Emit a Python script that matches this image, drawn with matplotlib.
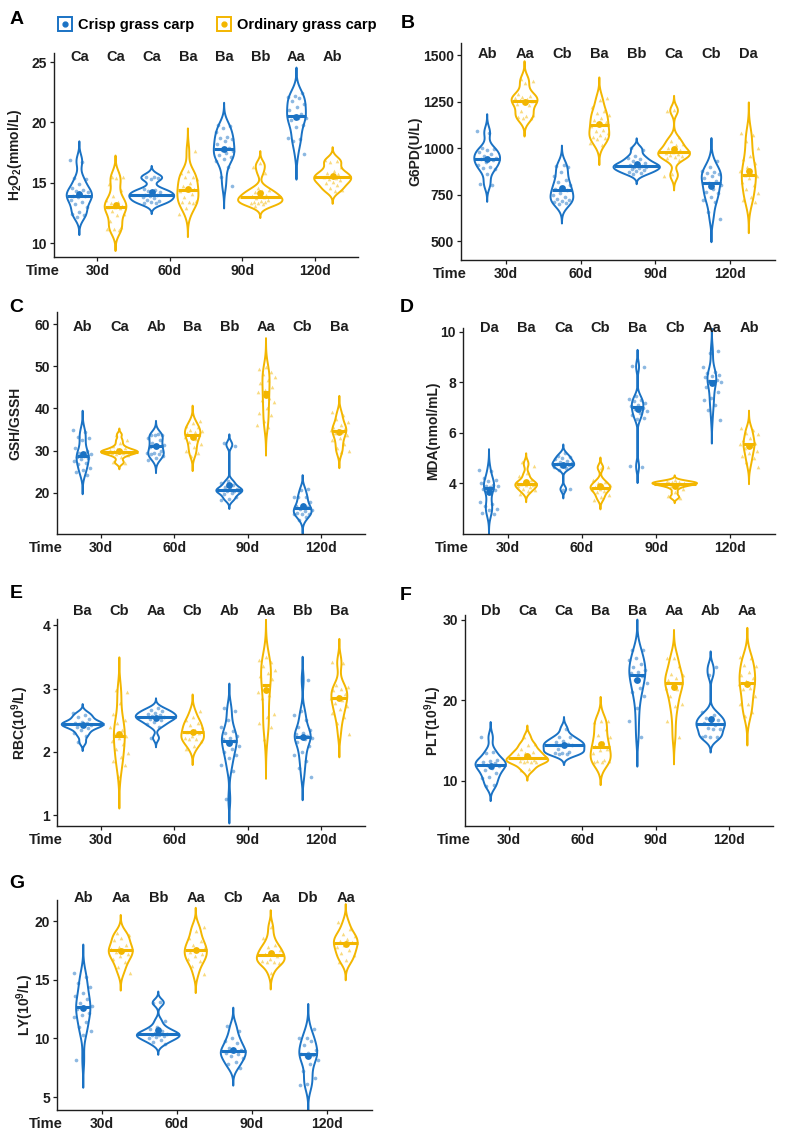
import numpy as np
import matplotlib
matplotlib.use("Agg")
import matplotlib.pyplot as plt
from matplotlib.lines import Line2D
from matplotlib.legend_handler import HandlerTuple
from matplotlib.transforms import offset_copy

plt.rcParams['font.family'] = ['Liberation Sans', 'DejaVu Sans']
plt.rcParams['font.weight'] = 'bold'
plt.rcParams['mathtext.fontset'] = 'custom'
plt.rcParams['mathtext.bf'] = 'Liberation Sans:bold'
plt.rcParams['mathtext.rm'] = 'Liberation Sans:bold'
plt.rcParams['mathtext.default'] = 'bf'

BLUE = '#1a72c4'
GOLD = '#f3b600'
INK = '#1e1e1e'

times = ['30d', '60d', '90d', '120d']
groups = ['Crisp grass carp', 'Ordinary grass carp']

# --- values (one list per time point: 30d, 60d, 90d, 120d)
h2o2_crisp = [
    [16.9, 16.7, 15.4, 15.3, 14.9, 14.6, 14.4, 14.3, 14.2, 14.0, 13.9, 13.9, 13.8, 13.6, 13.4, 13.2, 13.0, 12.6, 12.4, 12.3, 12.2],
    [15.5, 15.5, 15.4, 15.3, 14.5, 14.4, 14.3, 14.2, 14.1, 14.0, 14.0, 13.9, 13.8, 13.7, 13.6, 13.5, 13.4, 13.3, 13.3],
    [19.8, 19.7, 19.5, 19.2, 18.8, 18.7, 18.6, 18.5, 18.2, 17.9, 17.7, 17.6, 17.5, 17.3, 17.1, 17.0, 16.8, 16.3, 15.5, 14.7],
    [22.4, 22.2, 22.1, 22.0, 21.8, 21.5, 21.3, 21.0, 20.7, 20.5, 20.4, 20.4, 20.2, 19.8, 19.6, 18.7, 18.6, 18.5, 17.4],
]
h2o2_ord = [
    [15.5, 15.5, 15.4, 14.9, 14.4, 13.9, 13.6, 13.4, 13.3, 13.1, 13.0, 13.0, 12.9, 12.7, 12.4, 12.3, 11.8, 11.3, 11.2, 11.2, 11.1],
    [17.6, 16.0, 15.8, 15.5, 15.5, 15.3, 15.0, 14.7, 14.5, 14.4, 14.3, 14.1, 13.8, 13.5, 13.4, 13.4, 13.3, 12.9, 12.4],
    [16.6, 16.3, 15.8, 14.6, 14.4, 14.3, 14.2, 14.0, 13.9, 13.9, 13.8, 13.7, 13.6, 13.5, 13.4, 13.4, 13.3, 13.3, 13.2, 13.1],
    [16.9, 16.8, 16.7, 16.3, 16.0, 15.8, 15.7, 15.6, 15.5, 15.4, 15.3, 15.2, 15.1, 15.0, 14.8, 14.6, 14.4, 14.3],
]
g6pd_crisp = [
    [1090, 1080, 1000, 995, 990, 980, 970, 960, 950, 945, 940, 935, 925, 910, 900, 895, 890, 860, 810, 805],
    [910, 905, 900, 870, 850, 830, 820, 800, 790, 780, 775, 760, 750, 740, 730, 720, 715, 710, 705, 700],
    [1000, 990, 960, 950, 940, 930, 920, 915, 910, 905, 900, 900, 895, 890, 885, 880, 870, 865, 860],
    [930, 900, 880, 870, 865, 860, 850, 840, 825, 815, 800, 780, 765, 760, 740, 720, 710, 660, 620],
]
g6pd_ord = [
    [1370, 1360, 1350, 1290, 1280, 1275, 1270, 1265, 1260, 1255, 1250, 1240, 1230, 1200, 1180, 1175, 1170, 1165, 1160],
    [1270, 1260, 1220, 1200, 1190, 1180, 1165, 1150, 1140, 1130, 1120, 1100, 1090, 1080, 1070, 1060, 1055, 1050, 1030, 1020],
    [1205, 1200, 1060, 1040, 1025, 1020, 1000, 990, 980, 975, 970, 965, 960, 955, 950, 935, 860, 850],
    [1080, 1070, 1040, 1000, 960, 940, 920, 900, 880, 860, 855, 850, 840, 820, 800, 780, 760, 740, 720, 710],
]
gsh_crisp = [
    [34.9, 34.5, 33.3, 33.0, 32.5, 30.6, 30.0, 29.5, 29.2, 28.8, 28.5, 28.3, 28.0, 27.6, 27.0, 26.8, 25.8, 25.4, 25.0, 24.2],
    [33.9, 33.8, 33.7, 33.6, 33.0, 32.6, 31.8, 31.4, 31.2, 30.9, 30.0, 29.5, 29.4, 29.3, 29.2, 28.6, 28.2, 27.8],
    [31.8, 31.0, 22.8, 22.4, 21.8, 21.4, 21.0, 20.8, 20.6, 20.5, 20.4, 20.2, 20.0, 19.6, 19.0, 18.6, 18.2],
    [20.9, 20.6, 19.0, 19.0, 18.9, 17.8, 17.2, 16.8, 16.5, 16.2, 16.0, 15.6, 15.2, 15.0, 15.0, 14.9, 14.2, 13.5],
]
gsh_ord = [
    [33.8, 32.6, 31.8, 31.0, 30.6, 30.3, 30.1, 29.9, 29.8, 29.7, 29.6, 29.5, 29.4, 29.2, 28.9, 28.4, 27.4, 27.0],
    [37.0, 36.5, 35.8, 35.5, 35.0, 34.6, 34.4, 34.2, 34.0, 33.5, 33.2, 32.8, 32.1, 31.5, 30.8, 30.0, 29.4, 28.8],
    [49.8, 49.4, 48.6, 48.3, 47.5, 46.7, 46.0, 45.2, 44.5, 43.8, 42.5, 42.0, 41.5, 40.2, 39.0, 38.5, 37.0, 36.1, 35.7],
    [39.2, 38.4, 37.6, 36.8, 36.0, 35.6, 35.3, 35.0, 34.8, 34.5, 34.2, 33.6, 33.0, 32.4, 31.6, 30.6, 29.8, 29.6],
]
mda_crisp = [
    [4.55, 4.50, 4.20, 4.15, 4.08, 4.00, 3.95, 3.90, 3.88, 3.85, 3.80, 3.75, 3.70, 3.25, 3.20, 3.10, 3.00, 2.95, 2.85, 2.80],
    [5.20, 5.10, 5.05, 5.00, 4.95, 4.90, 4.85, 4.80, 4.78, 4.75, 4.72, 4.70, 4.65, 4.60, 4.55, 3.80, 3.75],
    [8.65, 8.60, 7.45, 7.35, 7.30, 7.25, 7.20, 7.10, 7.05, 7.00, 6.95, 6.85, 6.80, 6.70, 6.60, 6.55, 4.70, 4.65],
    [9.25, 9.15, 8.60, 8.40, 8.35, 8.30, 8.25, 8.20, 8.10, 8.05, 8.00, 7.95, 7.80, 7.60, 7.40, 7.30, 7.10, 6.90, 6.50],
]
mda_ord = [
    [4.85, 4.70, 4.40, 4.30, 4.15, 4.10, 4.05, 4.00, 3.98, 3.95, 3.92, 3.90, 3.85, 3.80, 3.75, 3.70, 3.60],
    [4.65, 4.60, 4.15, 4.05, 4.00, 3.95, 3.90, 3.85, 3.82, 3.80, 3.78, 3.70, 3.65, 3.55, 3.45, 3.35],
    [4.12, 4.08, 4.05, 4.04, 4.03, 4.02, 4.00, 3.98, 3.97, 3.95, 3.92, 3.88, 3.80, 3.65, 3.50, 3.42],
    [6.20, 6.10, 6.00, 5.95, 5.80, 5.70, 5.60, 5.58, 5.55, 5.50, 5.40, 5.30, 5.20, 5.10, 5.00, 4.85, 4.65],
]
rbc_crisp = [
    [2.62, 2.58, 2.55, 2.52, 2.48, 2.46, 2.45, 2.44, 2.43, 2.42, 2.40, 2.38, 2.35, 2.30, 2.25, 2.15],
    [2.70, 2.66, 2.64, 2.62, 2.60, 2.58, 2.56, 2.55, 2.54, 2.52, 2.50, 2.47, 2.44, 2.40, 2.22],
    [2.70, 2.65, 2.50, 2.40, 2.33, 2.30, 2.25, 2.22, 2.20, 2.18, 2.15, 2.10, 2.05, 2.00, 1.95, 1.90, 1.80, 1.70, 1.25],
    [3.14, 2.65, 2.58, 2.50, 2.40, 2.35, 2.30, 2.28, 2.25, 2.24, 2.22, 2.20, 2.15, 2.10, 2.00, 1.95, 1.85, 1.75, 1.60],
]
rbc_ord = [
    [2.98, 2.95, 2.78, 2.60, 2.50, 2.45, 2.40, 2.35, 2.30, 2.25, 2.22, 2.18, 2.12, 2.05, 1.98, 1.92, 1.85, 1.80, 1.62],
    [2.65, 2.55, 2.50, 2.45, 2.42, 2.40, 2.35, 2.32, 2.30, 2.25, 2.22, 2.20, 2.20, 2.18, 2.10, 2.05],
    [3.50, 3.45, 3.42, 3.35, 3.30, 3.25, 3.20, 3.15, 3.05, 2.95, 2.90, 2.85, 2.60, 2.55, 2.45, 2.40, 2.20],
    [3.42, 3.40, 3.05, 3.02, 3.00, 2.98, 2.92, 2.88, 2.85, 2.82, 2.78, 2.72, 2.68, 2.62, 2.55, 2.45, 2.28],
]
plt_crisp = [
    [15.4, 13.6, 13.5, 12.6, 12.5, 12.4, 12.2, 12.0, 11.9, 11.6, 11.4, 11.0, 10.5, 10.4, 9.5, 9.4],
    [16.5, 15.5, 15.4, 15.0, 14.8, 14.6, 14.5, 14.4, 14.3, 14.0, 13.6, 13.5, 13.5, 13.4, 13.4],
    [26.3, 26.2, 25.3, 25.0, 24.5, 24.2, 23.8, 23.5, 23.4, 23.0, 22.5, 22.2, 21.5, 21.0, 20.5, 19.1, 17.5, 15.5],
    [24.2, 23.2, 18.5, 18.2, 17.8, 17.6, 17.4, 17.2, 17.0, 16.6, 16.5, 16.5, 15.6, 15.5, 15.5, 15.4],
]
plt_ord = [
    [15.5, 14.6, 14.5, 14.0, 13.6, 13.5, 13.4, 13.1, 12.9, 12.6, 12.5, 12.5, 12.4, 12.4, 12.3, 11.5, 11.4],
    [17.5, 17.4, 17.3, 16.4, 15.7, 15.4, 14.8, 14.3, 14.0, 13.8, 13.5, 12.6, 12.5, 12.5, 12.4, 12.4],
    [25.3, 25.2, 24.3, 23.3, 23.2, 22.8, 22.5, 22.2, 22.0, 21.5, 21.4, 20.5, 19.5, 19.3, 17.5, 15.5],
    [25.4, 25.3, 24.4, 24.3, 23.5, 23.2, 22.8, 22.4, 22.0, 21.5, 21.4, 20.5, 19.6, 19.5, 18.5, 18.0],
]
ly_crisp = [
    [15.6, 15.2, 14.7, 14.4, 13.9, 13.6, 13.4, 13.0, 12.8, 12.7, 12.5, 12.2, 12.0, 11.8, 11.4, 11.0, 10.6, 10.3, 8.2],
    [13.1, 13.0, 11.5, 11.0, 10.8, 10.6, 10.5, 10.4, 10.3, 10.3, 10.2, 10.1, 10.0, 9.9, 9.7, 9.5],
    [11.1, 10.6, 10.0, 9.8, 9.6, 9.2, 9.0, 8.9, 8.8, 8.7, 8.5, 8.3, 8.0, 7.8, 7.5],
    [10.8, 10.0, 10.0, 9.8, 9.4, 9.0, 8.8, 8.7, 8.6, 8.5, 8.2, 7.8, 7.2, 6.6, 6.1, 6.0],
]
ly_ord = [
    [19.0, 18.8, 18.6, 18.4, 18.0, 17.8, 17.6, 17.5, 17.4, 17.2, 17.0, 16.8, 16.5, 16.1, 15.6],
    [19.5, 19.2, 18.6, 18.3, 18.0, 17.8, 17.6, 17.4, 17.2, 17.0, 16.8, 16.6, 16.2, 15.5],
    [19.5, 18.6, 18.0, 17.8, 17.5, 17.4, 17.2, 17.0, 16.8, 16.6, 16.5, 16.5, 16.4, 15.6],
    [19.9, 19.3, 18.9, 18.7, 18.5, 18.3, 18.2, 18.0, 17.8, 17.5, 17.3, 17.1, 16.7, 16.5],
]

# significance letters, in order crisp/ordinary for 30d, 60d, 90d, 120d
letters_h2o2 = ['Ca', 'Ca', 'Ca', 'Ba', 'Ba', 'Bb', 'Aa', 'Ab']
letters_g6pd = ['Ab', 'Aa', 'Cb', 'Ba', 'Bb', 'Ca', 'Cb', 'Da']
letters_gsh = ['Ab', 'Ca', 'Ab', 'Ba', 'Bb', 'Aa', 'Cb', 'Ba']
letters_mda = ['Da', 'Ba', 'Ca', 'Cb', 'Ba', 'Cb', 'Aa', 'Ab']
letters_rbc = ['Ba', 'Cb', 'Aa', 'Cb', 'Ab', 'Aa', 'Bb', 'Ba']
letters_plt = ['Db', 'Ca', 'Ca', 'Ba', 'Ba', 'Aa', 'Ab', 'Aa']
letters_ly = ['Ab', 'Aa', 'Bb', 'Aa', 'Cb', 'Aa', 'Db', 'Aa']

W_PX, H_PX = 788, 1140

# panel: tag, ylabel, data, letters, ylim, yticks, letter height, rect (l, t, r, b px), ylabel x px, max width
panels = [
    ('A', 'H$_2$O$_2$(mmol/L)', h2o2_crisp, h2o2_ord, letters_h2o2, (8.85, 25.75), [10, 15, 20, 25], 25.4,
     (54, 53, 358, 257), 15, 0.62),
    ('B', 'G6PD(U/L)', g6pd_crisp, g6pd_ord, letters_g6pd, (400, 1565), [500, 750, 1000, 1250, 1500], 1505,
     (461, 43, 775, 260), 415, 0.62),
    ('C', 'GSH/GSSH', gsh_crisp, gsh_ord, letters_gsh, (10.2, 62.9), [20, 30, 40, 50, 60], 59.3,
     (57, 312, 365, 534), 15, 0.5),
    ('D', 'MDA(nmol/mL)', mda_crisp, mda_ord, letters_mda, (2.0, 10.15), [4, 6, 8, 10], 10.15,
     (463, 328, 775, 534), 433, 0.6),
    ('E', 'RBC(10$^9$/L)', rbc_crisp, rbc_ord, letters_rbc, (0.83, 4.1), [1, 2, 3, 4], 4.22,
     (57, 619, 365, 826), 20, 0.57),
    ('F', 'PLT(10$^9$/L)', plt_crisp, plt_ord, letters_plt, (4.4, 30.6), [10, 20, 30], 31.1,
     (465, 615, 773, 826), 433, 0.57),
    ('G', 'LY(10$^9$/L)', ly_crisp, ly_ord, letters_ly, (3.9, 21.8), [5, 10, 15, 20], 22.0,
     (57, 900, 372, 1110), 25, 0.57),
]
tag_pos = {'A': (17, 19), 'B': (408, 24), 'C': (16, 308), 'D': (407, 307),
           'E': (16, 593), 'F': (406, 595), 'G': (17, 883)}


def nrd0(x):
    sd = x.std(ddof=1)
    q75, q25 = np.percentile(x, [75, 25])
    lo = min(sd, (q75 - q25) / 1.34) if q75 > q25 else sd
    return 0.9 * lo * len(x) ** -0.2


def kde_stats(values):
    x = np.asarray(values, float)
    bw = nrd0(x)
    coords = np.linspace(x.min() - 3 * bw, x.max() + 3 * bw, 300)
    z = (coords[:, None] - x[None, :]) / bw
    vals = np.exp(-0.5 * z ** 2).sum(axis=1) / (len(x) * bw * np.sqrt(2 * np.pi))
    med = float(np.median(x))
    dmed = np.exp(-0.5 * ((med - x) / bw) ** 2).sum() / (len(x) * bw * np.sqrt(2 * np.pi))
    return dict(coords=coords, vals=vals, mean=x.mean(), median=med,
                min=x.min(), max=x.max(), dmed=dmed)


fig = plt.figure(figsize=(W_PX / 100, H_PX / 100), dpi=100)

for tag, ylab, crisp, ordn, lets, ylim, yticks, ly, (l, t, r, b), ylx, wmax in panels:
    ax = fig.add_axes([l / W_PX, 1 - b / H_PX, (r - l) / W_PX, (b - t) / H_PX])
    stats, pos, cols, raw = [], [], [], []
    for i in range(4):
        for g, (src, col, off) in enumerate([(crisp, BLUE, -0.25), (ordn, GOLD, 0.25)]):
            stats.append(kde_stats(src[i]))
            pos.append(i + 1 + off)
            cols.append(col)
            raw.append(src[i])
    peak = max(s['vals'].max() for s in stats)
    widths = [wmax * s['vals'].max() / peak for s in stats]
    vp = ax.violin(stats, positions=pos, widths=widths, showextrema=False)
    for body, col in zip(vp['bodies'], cols):
        body.set_facecolor('none')
        body.set_edgecolor(col)
        body.set_alpha(None)
        body.set_linewidth(1.4)
    for k, (s, p, col, vals) in enumerate(zip(stats, pos, cols, raw)):
        n = len(vals)
        jit = ((np.arange(n) * 0.618034 + 0.3 * k) % 1 - 0.5) * 0.26
        mk = 'o' if col == BLUE else '^'
        ax.scatter(p + jit, vals, s=7, marker=mk, color=col, alpha=0.5, linewidths=0, zorder=3)
        half = 0.5 * wmax * s['dmed'] / peak
        ax.hlines(s['median'], p - half, p + half, color=col, lw=2.2, zorder=4)
        ax.scatter([p], [s['mean']], s=24, marker='o', color=col, zorder=5, linewidths=0)
        ax.text(p, ly, lets[k], ha='center', va='center', fontsize=10.5, color=INK, clip_on=False)

    ax.set_xlim(0.4, 4.6)
    ax.set_ylim(*ylim)
    ax.set_xticks([1, 2, 3, 4])
    ax.set_xticklabels(times)
    ax.set_yticks(yticks)
    for sp in ('top', 'right'):
        ax.spines[sp].set_visible(False)
    for sp in ('left', 'bottom'):
        ax.spines[sp].set_color(INK)
        ax.spines[sp].set_linewidth(1.0)
    ax.tick_params(axis='both', length=3, width=0.9, color=INK, labelcolor=INK,
                   labelsize=10, pad=2)
    for lab in ax.get_xticklabels() + ax.get_yticklabels():
        lab.set_fontweight('bold')
    trans = offset_copy(ax.transAxes, fig=fig, x=-11, y=-14, units='dots')
    ax.text(0, 0, 'Time', transform=trans, ha='center', va='center',
            fontsize=10.5, color=INK)
    fig.text(ylx / W_PX, 1 - (t + b) / 2 / H_PX, ylab, rotation=90, ha='center', va='center',
             fontsize=10, color=INK)
    tx, ty = tag_pos[tag]
    fig.text(tx / W_PX, 1 - ty / H_PX, tag, ha='center', va='center', fontsize=14, color='black')

handles = []
for col in (BLUE, GOLD):
    sq = Line2D([], [], ls='none', marker='s', ms=9.5, mfc='white', mec=col, mew=1.4)
    dot = Line2D([], [], ls='none', marker='o', ms=3.5, color=col)
    handles.append((sq, dot))
fig.legend(handles, groups, handler_map={tuple: HandlerTuple(ndivide=1)},
           loc='center left', bbox_to_anchor=(52 / W_PX, 1 - 25 / H_PX), ncol=2,
           frameon=False, fontsize=10.5, handlelength=1.0, handletextpad=0.35,
           columnspacing=1.6, borderaxespad=0)

fig.savefig('out.png', dpi=100)
